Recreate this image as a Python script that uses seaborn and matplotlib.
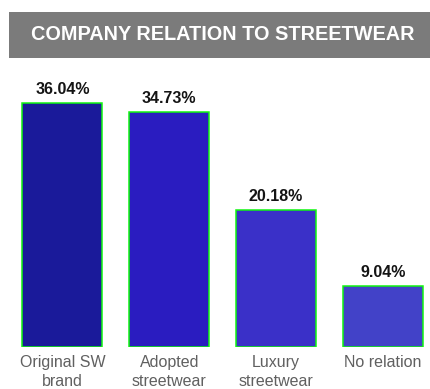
import matplotlib
matplotlib.use("Agg")
import matplotlib.pyplot as plt
import matplotlib.patches as mpatches
import seaborn as sns
import pandas as pd

categories = ["Original SW\nbrand", "Adopted\nstreetwear", "Luxury\nstreetwear", "No relation"]
shares = [36.04, 34.73, 20.18, 9.04]
bar_colors = ["#1a1a9a", "#2a1cc0", "#3a30c8", "#4242c8"]
title = "COMPANY RELATION TO STREETWEAR"

sns.set_theme(style="white")
plt.rcParams["font.family"] = ["Liberation Sans", "DejaVu Sans"]

df = pd.DataFrame({"category": categories, "share": shares})

fig = plt.figure(figsize=(4.31, 3.89), dpi=100)
ax = fig.add_axes([9 / 431, 42 / 389, 1 - 9 / 431, 0.75])

sns.barplot(data=df, x="category", y="share", hue="category", palette=bar_colors,
            legend=False, width=0.75, edgecolor="#11f511", linewidth=1.1,
            saturation=1, ax=ax)

for i, v in enumerate(shares):
    ax.annotate(f"{v:.2f}%", (i, v), xytext=(0, 4.5), textcoords="offset points",
                ha="center", va="bottom", fontsize=11.5, fontweight="bold",
                color="#141414")

ax.set_xlim(-0.5, 3.45)
ax.set_ylim(0, 43.1)
ax.set_xlabel("")
ax.set_ylabel("")
ax.set_yticks([])
ax.tick_params(axis="x", length=0, labelsize=11.5, labelcolor="#606060", pad=6)
for lbl in ax.get_xticklabels():
    lbl.set_linespacing(1.3)
for s in ax.spines.values():
    s.set_visible(False)

# Title banner
fig.patches.append(mpatches.Rectangle((9 / 431, 1 - 58 / 389), 1 - 9 / 431, 46 / 389,
                                      transform=fig.transFigure, facecolor="#7b7b7b",
                                      edgecolor="none", zorder=0))
fig.text(222.5 / 431, 1 - 35 / 389, title, ha="center", va="center",
         color="white", fontsize=14.3, fontweight="bold")

fig.savefig("out.png", dpi=100)
